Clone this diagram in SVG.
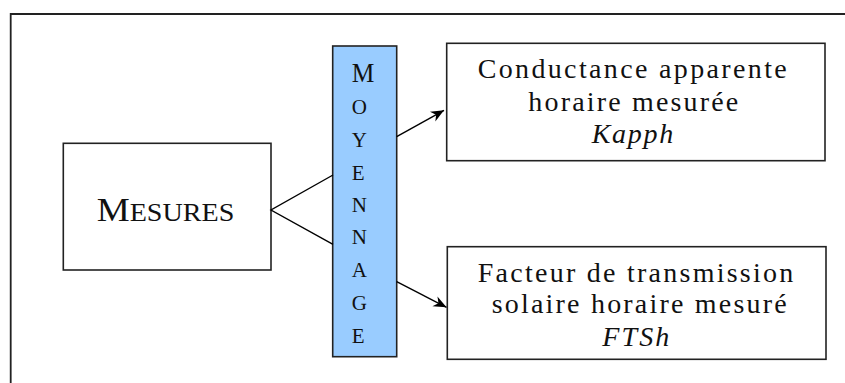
<svg xmlns="http://www.w3.org/2000/svg" width="845" height="383" viewBox="0 0 845 383">
<style>
.box{fill:#fff;stroke:#222;stroke-width:1.6}
.bar{fill:#99ccff;stroke:#222;stroke-width:1.6}
.t{font-family:"Liberation Serif","Times New Roman",serif;fill:#111}
.lb{font-size:28px}
.it{font-style:italic}
.vl{font-size:21px}
.conn{fill:none;stroke:#000;stroke-width:1.4}
</style>
<defs>
<marker id="ah" markerUnits="userSpaceOnUse" markerWidth="16" markerHeight="12" viewBox="-14 -6 16 12" refX="0" refY="0" orient="auto">
<path d="M0,0 L-13,-5.5 L-9,0 L-13,5.5 Z" fill="#000"/>
</marker>
</defs>
<rect width="845" height="383" fill="#fff"/>
<path d="M10.7,383 V14 H845" fill="none" stroke="#222" stroke-width="1.8"/>
<g id="mesures">
<rect class="box" x="63.3" y="143.3" width="207.7" height="126.7"/>
<text class="t" x="96.7" y="220.7" textLength="137.6" lengthAdjust="spacingAndGlyphs"><tspan font-size="33">M</tspan><tspan font-size="25">ESURES</tspan></text>
</g>
<g id="moyennage">
<rect class="bar" x="332.7" y="46" width="64" height="310.7"/>
<text class="t" x="351.7" y="81.7" font-size="28" textLength="22.6" lengthAdjust="spacingAndGlyphs">M</text>
<text class="t vl" x="351.7" y="114">O</text>
<text class="t vl" x="351.7" y="146.7">Y</text>
<text class="t vl" x="351.7" y="179.5">E</text>
<text class="t vl" x="351.7" y="211.7">N</text>
<text class="t vl" x="351.7" y="244.3">N</text>
<text class="t vl" x="351.7" y="277.3">A</text>
<text class="t vl" x="351.7" y="310">G</text>
<text class="t vl" x="351.7" y="342.7">E</text>
</g>
<g id="kapph">
<rect class="box" x="446.7" y="43.3" width="378.3" height="117.4"/>
<text class="t lb" x="477.7" y="77.7" textLength="309" lengthAdjust="spacing">Conductance apparente</text>
<text class="t lb" x="528.3" y="111" textLength="210" lengthAdjust="spacing">horaire mesurée</text>
<text class="t lb it" x="591.7" y="142.7" textLength="81.6" lengthAdjust="spacing">Kapph</text>
</g>
<g id="ftsh">
<rect class="box" x="447.3" y="246.7" width="378.7" height="112.6"/>
<text class="t lb" x="477.7" y="281.7" textLength="315.6" lengthAdjust="spacing">Facteur de transmission</text>
<text class="t lb" x="491.7" y="313.3" textLength="295" lengthAdjust="spacing">solaire horaire mesuré</text>
<text class="t lb it" x="602.3" y="346" textLength="67" lengthAdjust="spacing">FTSh</text>
</g>
<g id="connectors">
<path class="conn" d="M333,175 L271,210 L333,244.3"/>
<path class="conn" d="M396.7,136.7 L444,110.3" marker-end="url(#ah)"/>
<path class="conn" d="M396.7,281.7 L446.5,307.3" marker-end="url(#ah)"/>
</g>
</svg>
